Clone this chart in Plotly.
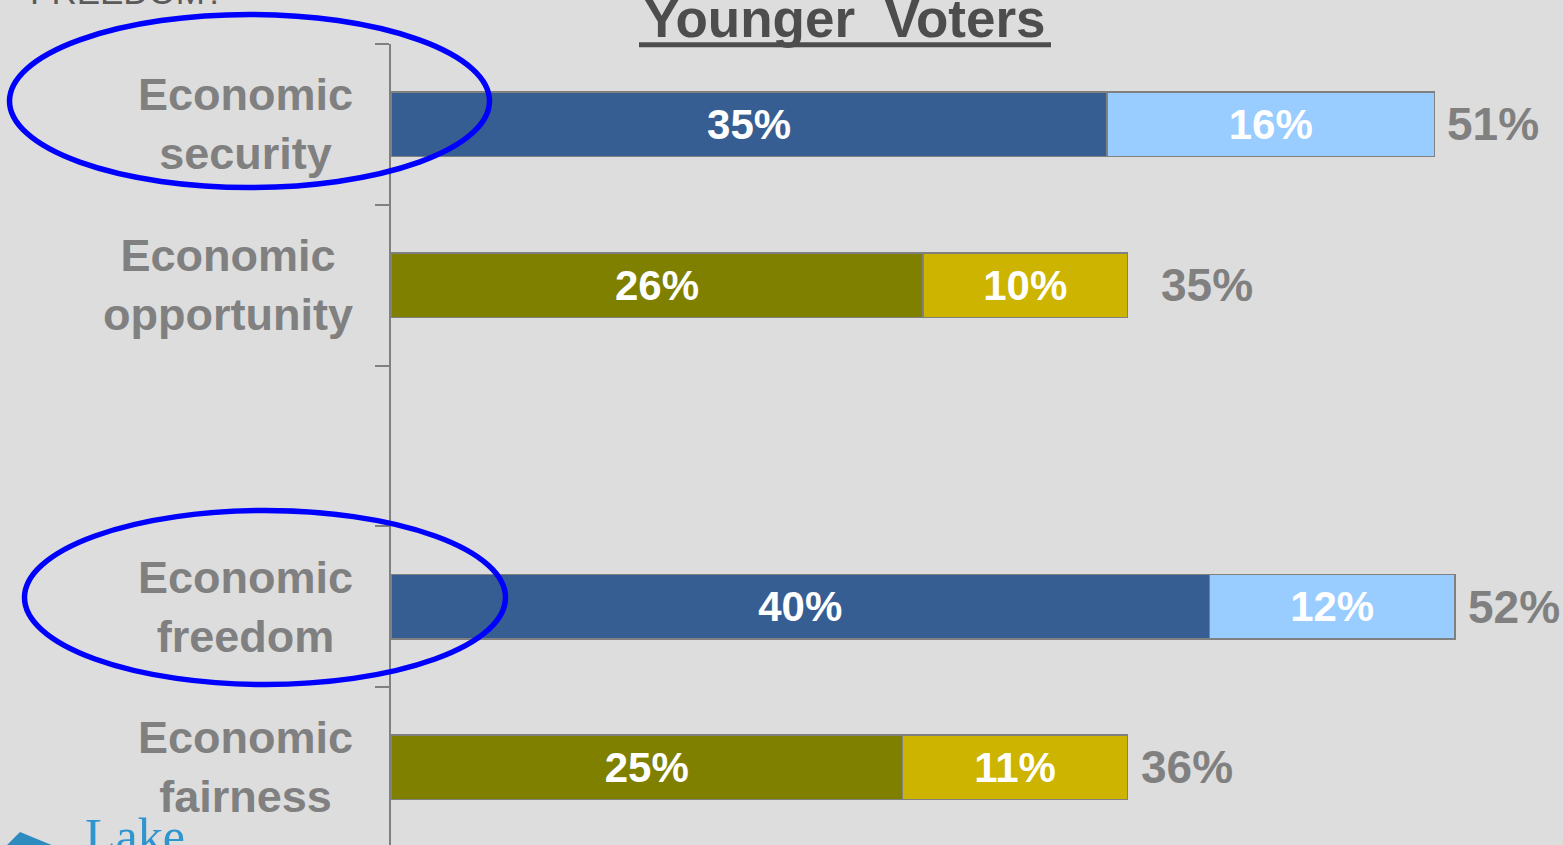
import plotly.graph_objects as go

# ---------------- data ----------------
categories = ["Economic<br>security", "Economic<br>opportunity", "",
              "Economic<br>freedom", "Economic<br>fairness"]
strong = [35, 26, None, 40, 25]      # first (dark) segment
somewhat = [16, 10, None, 12, 11]    # second (light) segment
totals = [51, 35, None, 52, 36]      # printed totals
title_text = "Younger\u00a0 Voters"
corner_text = "FREEDOM?"
logo_text = "Lake"

# ---------------- layout constants ----------------
W, H = 1563, 845
L, T = 391, 44
PW, PH = W - L, H - T
PX_PER_PCT = 20.46
SLOT = 160.75

def px_x(p):
    return (p - L) / PW

def px_y(p):
    return 1 - (p - T) / PH

FONT = "Arial, Liberation Sans, sans-serif"
GRAY = "#808080"
BG = "#DDDDDD"
dark_cols = {"security": "#365E92", "opportunity": "#808000",
             "freedom": "#365E92", "fairness": "#808000"}
light_cols = {"security": "#99CCFF", "opportunity": "#CCB400",
              "freedom": "#99CCFF", "fairness": "#CCB400"}

idx = [i for i, c in enumerate(categories) if c]
keys = [categories[i].split("<br>")[1] for i in idx]

fig = go.Figure()
for vals, cols in ((strong, dark_cols), (somewhat, light_cols)):
    fig.add_trace(go.Bar(
        orientation="h",
        y=idx,
        x=[vals[i] for i in idx],
        width=0.4,
        marker=dict(color=[cols[k] for k in keys],
                    line=dict(color=GRAY, width=1.5)),
        texttemplate="%{x}%",
        textposition="inside",
        insidetextanchor="middle",
        textangle=0,
        textfont=dict(family=FONT, size=42, color="white", weight="bold"),
        showlegend=False,
        hoverinfo="skip",
    ))

annotations = []
extra_shift = {"opportunity": 20}
for i, k in zip(idx, keys):
    annotations.append(dict(
        x=strong[i] + somewhat[i], y=i, xref="x", yref="y",
        text=f"{totals[i]}%", showarrow=False,
        xanchor="left", yanchor="middle",
        xshift=11 + extra_shift.get(k, 0),
        font=dict(family=FONT, size=46, color=GRAY, weight="bold"),
    ))
    annotations.append(dict(
        x=0, y=i, xref="paper", yref="y",
        text=categories[i], showarrow=False,
        xanchor="right", yanchor="middle", align="center",
        xshift=-36,
        font=dict(family=FONT, size=45, color=GRAY, weight="bold"),
    ))

# title
annotations.append(dict(
    x=px_x(845), y=1, xref="paper", yref="paper", yshift=25.4,
    text=title_text, showarrow=False, xanchor="center", yanchor="middle",
    font=dict(family=FONT, size=53, color="#4D4D4D", weight="bold"),
))
# cut-off corner text
annotations.append(dict(
    x=0, y=1, xref="paper", yref="paper", xshift=28 - L, yshift=53,
    text=corner_text, showarrow=False, xanchor="left", yanchor="middle",
    font=dict(family=FONT, size=35, color="#5A5A5A"),
))
# logo text
annotations.append(dict(
    x=0, y=0, xref="paper", yref="paper", xshift=83 - L, yshift=9,
    text=logo_text, showarrow=False, xanchor="left", yanchor="middle",
    font=dict(family="Liberation Serif, DejaVu Serif, serif", size=50,
              color="#2E95CF"),
))

shapes = [
    # title underline
    dict(type="line", xref="paper", yref="paper",
         x0=px_x(639), x1=px_x(1051), y0=px_y(44.8), y1=px_y(44.8),
         line=dict(color="#4D4D4D", width=5)),
    # ellipses
    dict(type="circle", xref="paper", yref="paper", layer="above",
         x0=px_x(9.5), x1=px_x(489.5), y0=px_y(187.5), y1=px_y(14.5),
         line=dict(color="#0000FF", width=5.5)),
    dict(type="circle", xref="paper", yref="paper", layer="above",
         x0=px_x(24.5), x1=px_x(505.5), y0=px_y(684.5), y1=px_y(510.5),
         line=dict(color="#0000FF", width=5.5)),
    # logo triangle
    dict(type="path", xref="paper", yref="paper",
         path=f"M {px_x(6)} {px_y(846)} L {px_x(20)} {px_y(832)} "
              f"L {px_x(54)} {px_y(846)} Z",
         fillcolor="#2E8BC0", line=dict(width=0)),
]

n = len(categories)
fig.update_layout(
    width=W, height=H,
    margin=dict(l=L, r=0, t=T, b=0, pad=0),
    paper_bgcolor=BG, plot_bgcolor=BG,
    barmode="stack",
    xaxis=dict(range=[0, PW / PX_PER_PCT], showgrid=False, zeroline=False,
               showticklabels=False, showline=False, ticks=""),
    yaxis=dict(range=[-0.5 + PH / SLOT, -0.5],
               tickvals=[i - 0.5 for i in range(n + 1)],
               showticklabels=False, ticks="outside", ticklen=14,
               tickwidth=2, tickcolor=GRAY,
               showline=True, linecolor=GRAY, linewidth=2,
               showgrid=False, zeroline=False),
    annotations=annotations,
    shapes=shapes,
    font=dict(family=FONT),
)

fig.write_html(
    "out.html",
    config={"displayModeBar": False},
    post_script="document.body.style.margin='0';"
                "document.body.style.overflow='hidden';",
)
